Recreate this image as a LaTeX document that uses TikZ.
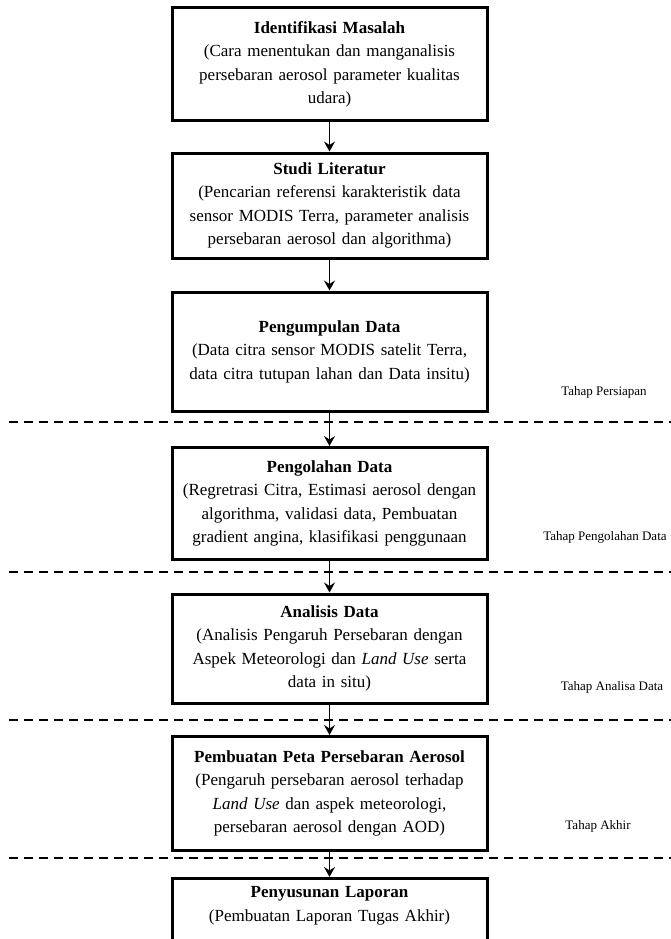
\documentclass[tikz,border=0pt]{standalone}
\usepackage{fontspec}
\setmainfont{Liberation Serif}
\usetikzlibrary{arrows.meta}

\begin{document}
\begin{tikzpicture}[x=1pt, y=-1pt, node distance={145pt},
  main/.style = {draw, line width=3pt, text width=305pt, inner xsep=5pt, align=center, font=\fontsize{17}{23.5}\selectfont},
  phase/.style = {font=\fontsize{13}{16}\selectfont},
  sep/.style = {line width=2.2pt, dash pattern=on 9pt off 6pt},
  flow/.style = {line width=1.6pt, -{Stealth[length=10pt, width=11pt, inset=3.5pt]}}]
\useasboundingbox (0,0) rectangle (671,939);

\node[main, minimum height=113pt] (1) at (329.5,64.5) {\textbf{Identifikasi Masalah}\\(Cara menentukan dan manganalisis\\persebaran aerosol parameter kualitas\\udara)};
\node[main, minimum height=105pt] (2) [below of=1, node distance=141pt] {\textbf{Studi Literatur}\\(Pencarian referensi karakteristik data\\sensor MODIS Terra, parameter analisis\\persebaran aerosol dan algorithma)};
\node[main, minimum height=119pt] (3) [below of=2, node distance=146pt] {\textbf{Pengumpulan Data}\\(Data citra sensor MODIS satelit Terra,\\data citra tutupan lahan dan Data insitu)};
\node[main, minimum height=112pt] (4) [below of=3, node distance=152pt] {\textbf{Pengolahan Data}\\(Regretrasi Citra, Estimasi aerosol dengan\\algorithma, validasi data, Pembuatan\\gradient angina, klasifikasi penggunaan};
\node[main, minimum height=109pt] (5) [below of=4] {\textbf{Analisis Data}\\(Analisis Pengaruh Persebaran dengan\\Aspek Meteorologi dan \textit{Land Use} serta\\data in situ)};
\node[main, minimum height=114pt] (6) [below of=5] {\textbf{Pembuatan Peta Persebaran Aerosol}\\(Pengaruh persebaran aerosol terhadap\\\textit{Land Use} dan aspek meteorologi,\\persebaran aerosol dengan AOD)};
\node[main, inner ysep=8pt, text depth=75pt] (7) [below of=6, node distance=136pt] {\textbf{Penyusunan Laporan}\\(Pembuatan Laporan Tugas Akhir)};

% garis tahap
\draw[sep] (9,422) -- (671,422);
\draw[sep] (9,572) -- (671,572);
\draw[sep] (9,720) -- (671,720);
\draw[sep] (9,858) -- (671,858);

\node[phase] (p1) at (604,392) {Tahap Persiapan};
\node[phase] (p2) at (605,537) {Tahap Pengolahan Data};
\node[phase] (p3) at (612,687) {Tahap Analisa Data};
\node[phase] (p4) at (598,826) {Tahap Akhir};

\draw[flow] (1) -- (2);
\draw[flow] (2) -- (3);
\draw[flow] (3) -- (4);
\draw[flow] (4) -- (5);
\draw[flow] (5) -- (6);
\draw[flow] (6) -- (7);
\end{tikzpicture}
\end{document}
